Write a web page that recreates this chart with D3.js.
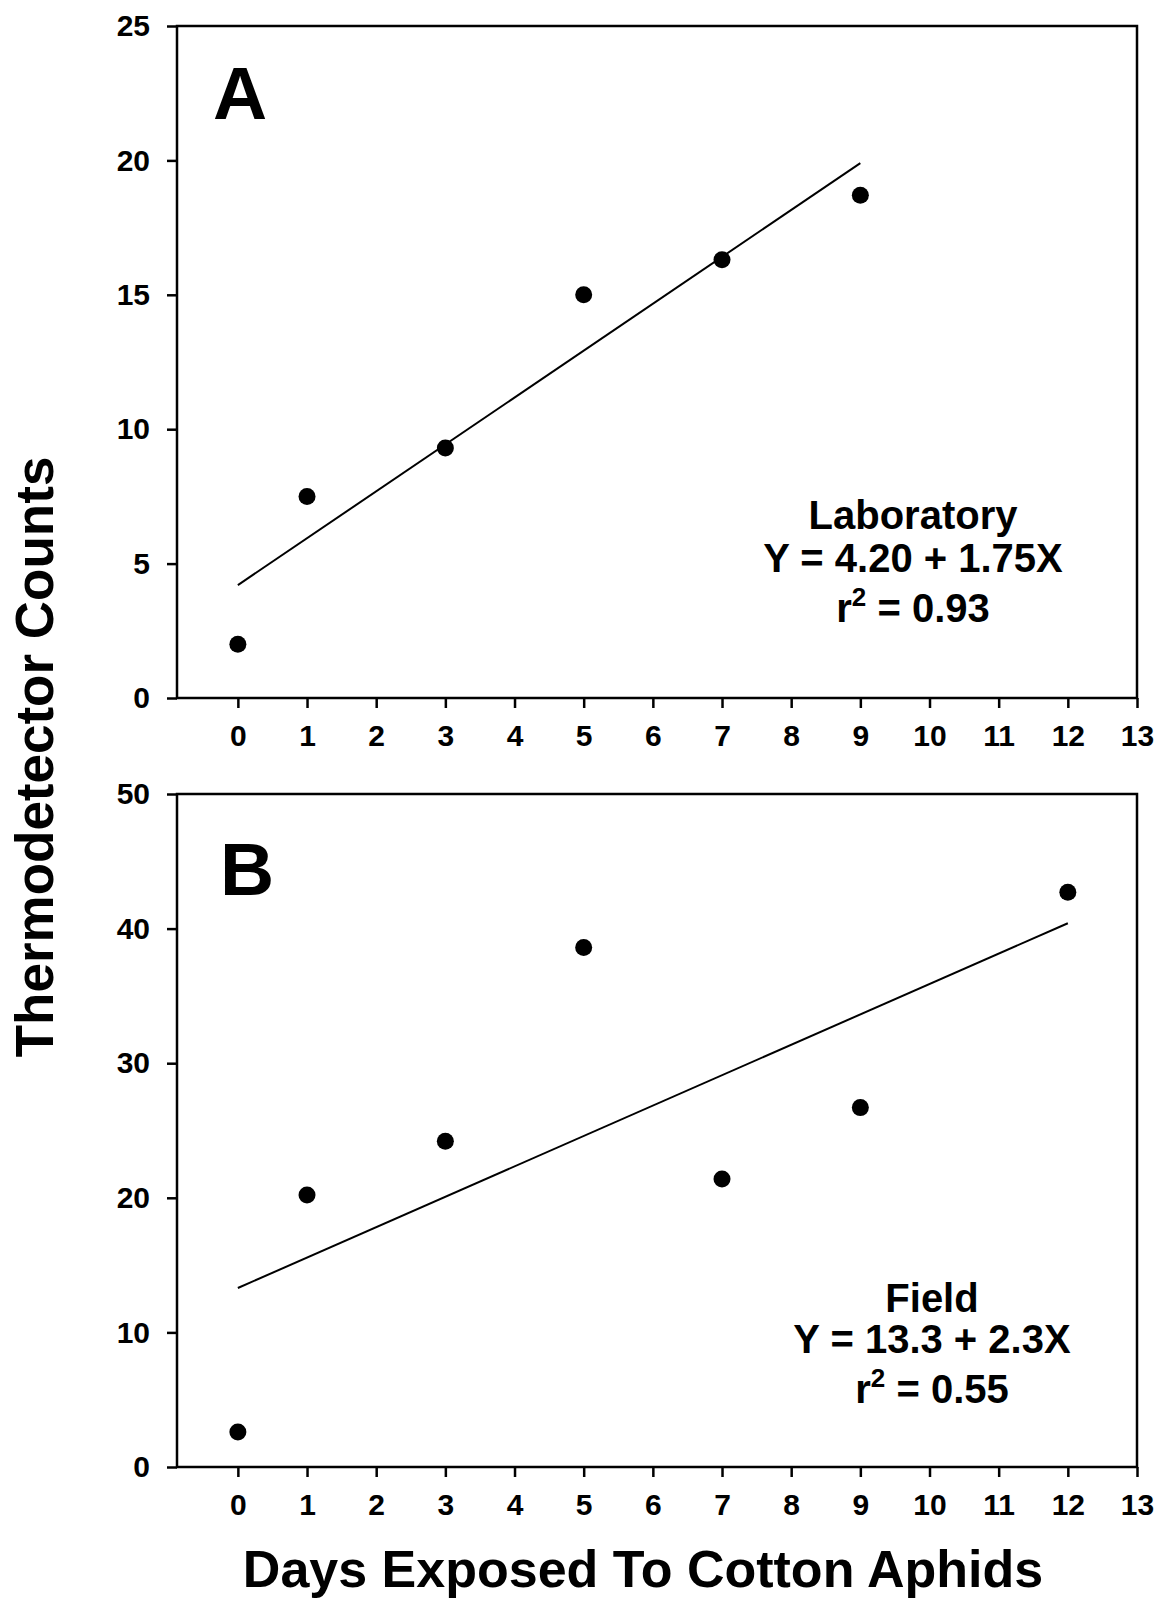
<!DOCTYPE html>
<html>
<head>
<meta charset="utf-8">
<script src="https://cdn.jsdelivr.net/npm/d3@7"></script>
<style>
  body { margin: 0; background: #fff; }
  svg text { font-family: "Liberation Sans", Arial, sans-serif; font-weight: bold; fill: #000; }
  .axis text { font-size: 30px; }
  .axis line { stroke: #000; stroke-width: 2.5px; }
</style>
</head>
<body>
<div id="chart"></div>
<script>
var width = 1158, height = 1598;
var left = 177, right = 1137;

// data
var xTicks = d3.range(0, 14);
var labDays = [0, 1, 3, 5, 7, 9];
var labCounts = [2.0, 7.5, 9.3, 15.0, 16.3, 18.7];
var labFit = [[0, 4.2], [9, 19.9]];
var labTicks = [0, 5, 10, 15, 20, 25];
var labText = ['Laboratory', 'Y = 4.20 + 1.75X', '0.93'];

var fieldDays = [0, 1, 3, 5, 7, 9, 12];
var fieldCounts = [2.6, 20.2, 24.2, 38.6, 21.4, 26.7, 42.7];
var fieldFit = [[0, 13.3], [12, 40.4]];
var fieldTicks = [0, 10, 20, 30, 40, 50];
var fieldText = ['Field', 'Y = 13.3 + 2.3X', '0.55'];

var svg = d3.select('#chart')
  .append('svg')
  .attr('width', width)
  .attr('height', height);

var xScale = d3.scaleLinear()
  .domain([-0.88, 13])
  .range([left, right]);

function panel(opt) {
  var yScale = d3.scaleLinear()
    .domain([0, opt.ymax])
    .range([opt.bottom, opt.top]);

  var g = svg.append('g');

  // frame
  g.append('rect')
    .attr('x', left)
    .attr('y', opt.top)
    .attr('width', right - left)
    .attr('height', opt.bottom - opt.top)
    .attr('fill', 'none')
    .attr('stroke', '#000')
    .attr('stroke-width', 2.5);

  var xAxis = d3.axisBottom(xScale).tickValues(xTicks).tickSize(10).tickPadding(17);
  var yAxis = d3.axisLeft(yScale).tickValues(opt.yTicks).tickSize(10).tickPadding(17);

  var xg = g.append('g')
    .attr('class', 'axis')
    .attr('transform', 'translate(0,' + opt.bottom + ')')
    .call(xAxis);
  xg.select('.domain').remove();

  var yg = g.append('g')
    .attr('class', 'axis')
    .attr('transform', 'translate(' + left + ',0)')
    .call(yAxis);
  yg.select('.domain').remove();

  // fitted line
  g.append('line')
    .attr('x1', xScale(opt.fit[0][0]))
    .attr('y1', yScale(opt.fit[0][1]))
    .attr('x2', xScale(opt.fit[1][0]))
    .attr('y2', yScale(opt.fit[1][1]))
    .attr('stroke', '#000')
    .attr('stroke-width', 2);

  g.selectAll('.dot')
    .data(opt.days)
    .enter()
    .append('circle')
    .attr('cx', function (d) { return xScale(d); })
    .attr('cy', function (d, i) { return yScale(opt.counts[i]); })
    .attr('r', 8.5)
    .attr('fill', '#000');

  // panel letter
  g.append('text')
    .attr('x', opt.letterX)
    .attr('y', opt.top + opt.letterDy)
    .style('font-size', '75px')
    .text(opt.letter);

  // equation block
  var t = g.append('g').attr('text-anchor', 'middle').style('font-size', '40px');
  t.append('text').attr('x', opt.textX).attr('y', opt.textY[0]).text(opt.text[0]);
  t.append('text').attr('x', opt.textX).attr('y', opt.textY[1]).text(opt.text[1]);
  var r2 = t.append('text').attr('x', opt.textX).attr('y', opt.textY[2]);
  r2.append('tspan').text('r');
  r2.append('tspan').attr('dy', -16).style('font-size', '26px').text('2');
  r2.append('tspan').attr('dy', 16).text(' = ' + opt.text[2]);
}

panel({
  top: 26, bottom: 698, ymax: 25, yTicks: labTicks,
  days: labDays, counts: labCounts, fit: labFit,
  letter: 'A', letterX: 213, letterDy: 93,
  text: labText, textX: 913, textY: [529, 572, 622]
});

panel({
  top: 794, bottom: 1467, ymax: 50, yTicks: fieldTicks,
  days: fieldDays, counts: fieldCounts, fit: fieldFit,
  letter: 'B', letterX: 220, letterDy: 101,
  text: fieldText, textX: 932, textY: [1312, 1353, 1403]
});

svg.append('text')
  .attr('x', 643)
  .attr('y', 1587)
  .attr('text-anchor', 'middle')
  .style('font-size', '52px')
  .text('Days Exposed To Cotton Aphids');

svg.append('text')
  .attr('transform', 'translate(53,757) rotate(-90)')
  .attr('text-anchor', 'middle')
  .style('font-size', '53px')
  .text('Thermodetector Counts');
</script>
</body>
</html>
